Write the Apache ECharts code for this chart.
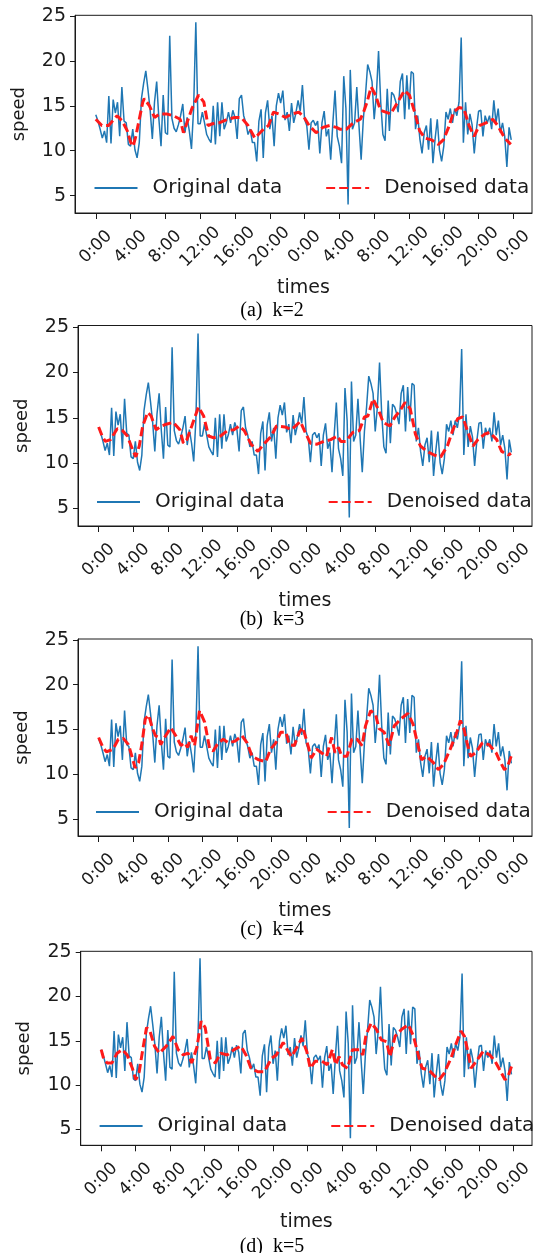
<!DOCTYPE html>
<html><head><meta charset="utf-8">
<script src="https://cdn.jsdelivr.net/npm/echarts@6/dist/echarts.min.js"></script>
<style>html,body{margin:0;padding:0;background:#fff}#c{width:533px;height:1253px}</style>
</head><body><div id="c"></div>
<script>
// ---- data ----
const tickLabels = ['0:00','4:00','8:00','12:00','16:00','20:00','0:00','4:00','8:00','12:00','16:00','20:00','0:00'];
const tickIndex = [0,16,32,48,64,80,96,112,128,144,160,176,192];
const yTicks = [5,10,15,20,25];
const seriesNames = ['Original data','Denoised data'];
const captions = ['(a)  k=2','(b)  k=3','(c)  k=4','(d)  k=5'];

const original = [
14.0,13.3,12.4,11.4,12.2,10.9,16.1,10.8,15.7,14.2,
15.4,11.6,17.1,13.3,13.1,10.7,10.5,12.4,10.1,9.2,
10.9,15.8,17.5,18.9,16.8,14.5,11.3,15.4,17.7,13.6,
10.5,16.2,12.0,11.8,22.8,13.6,12.5,12.1,12.9,13.9,
15.2,12.0,13.7,12.2,10.2,14.8,24.3,13.0,13.0,14.3,
13.1,11.8,11.3,10.9,15.0,10.7,15.4,11.6,15.4,12.4,
13.1,14.3,13.1,14.5,13.7,11.3,15.8,16.2,13.9,13.1,
11.8,12.4,10.9,10.9,8.8,13.3,14.6,9.2,14.2,15.6,
12.4,13.9,10.5,15.0,16.4,15.3,16.7,13.4,14.3,12.2,
15.3,13.1,14.2,15.6,14.4,17.3,13.5,12.8,10.1,13.1,
13.4,12.8,13.3,9.7,13.1,14.4,11.6,12.4,9.0,13.1,
16.7,11.6,10.5,8.6,18.3,14.7,4.0,19.0,12.4,13.1,
17.1,12.8,9.0,13.5,16.2,19.6,18.8,17.7,13.5,16.2,
21.1,15.4,11.8,11.1,16.9,12.2,16.5,16.2,15.4,14.3,
17.7,18.6,13.5,18.4,14.6,18.8,18.6,12.4,13.9,11.3,
9.7,12.0,12.8,10.1,13.6,8.6,11.3,13.5,10.1,8.8,
10.5,14.3,13.5,14.7,13.1,14.7,13.9,15.4,22.6,10.9,
15.4,11.8,14.1,12.9,9.7,12.4,14.4,14.5,11.6,13.9,
13.1,13.9,12.4,15.6,13.1,14.7,12.0,13.1,11.6,8.2,
12.6,11.2];

const denoisedK2 = [[0,13.5],[2.8,12.8],[5.9,12.8],[9.8,13.9],[12.2,13.3],[14.5,12.2],[16.1,10.9],[17.2,10.5],[18.4,11.6],[20,13.5],[21.6,15.4],[22.3,15.8],[24.7,15.0],[27,13.7],[29.4,14.1],[32.5,14.1],[35.6,13.9],[38.8,13.5],[40.3,12.0],[41.9,13.1],[44.2,14.7],[47.3,16.2],[49.7,15.4],[51.6,12.8],[53.6,13.0],[56.7,13.1],[60.6,13.5],[63.8,13.7],[66.9,13.7],[70,12.8],[73.1,11.4],[76.3,12.2],[79.4,12.8],[81.7,14.3],[84.1,14.1],[87.2,13.7],[90.3,14.1],[93.4,14.3],[95.8,13.7],[98.1,12.8],[101.3,12.0],[104.4,12.6],[107.5,12.8],[110.6,12.6],[112.2,12.4],[115.3,12.4],[118.4,13.1],[121.6,13.5],[123.1,14.3],[124.7,15.4],[126.6,17.1],[128.6,16.2],[130.9,14.5],[133.3,14.3],[135.6,14.1],[138.8,15.4],[141.9,16.7],[144.2,16.2],[146.6,14.3],[148.9,12.2],[151.3,11.4],[154.4,11.2],[157.5,10.7],[159.8,11.2],[162.2,12.6],[164.5,14.3],[166.9,14.8],[169.2,14.7],[171.6,12.8],[173.9,11.6],[176.3,12.8],[179.4,13.1],[182.5,13.5],[184.8,12.8],[188,11.4],[190.8,10.7]];

const denoisedK3 = [[0,14.0],[1.6,13.0],[3.1,12.4],[5.5,12.6],[8.6,13.8],[11,13.6],[13.3,13.0],[15.7,11.5],[17.2,10.7],[18.8,11.9],[20.4,14.1],[22.7,15.6],[24.3,15.2],[26.6,13.7],[29,14.1],[31.3,14.3],[34.5,14.5],[37.6,13.7],[39.2,12.2],[40.8,12.6],[43.1,14.1],[46.2,16.2],[48.6,15.2],[50.9,13.0],[53.3,12.8],[56.4,13.0],[59.6,13.6],[62.7,13.7],[65,14.1],[67.4,13.6],[70.5,12.1],[73.7,11.3],[76.8,12.2],[79.9,13.0],[82.3,14.1],[86.2,14.0],[89.3,13.7],[93.3,14.6],[95.6,13.4],[98,12.2],[101.1,12.1],[104.2,12.4],[107.4,12.6],[110.5,13.0],[112.1,12.4],[114.4,12.4],[117.6,13.4],[120.7,13.6],[123,15.1],[124.6,15.2],[127,17.1],[129.3,16.0],[131.7,14.5],[134.8,14.1],[137.1,15.1],[139.5,15.8],[141.8,16.7],[144.2,16.0],[146.6,13.2],[148.9,11.9],[152,11.3],[155.2,10.9],[158.3,10.7],[161.4,11.9],[163.8,13.6],[166.1,14.9],[168.5,15.1],[170.5,13.7],[173.2,11.9],[175.5,12.6],[178.7,13.2],[181,13.4],[184.2,12.6],[186.5,11.3],[189.7,10.9],[190.8,11.1]];

const denoisedK4 = [[0,14.1],[2,13.0],[3.6,12.5],[6.7,12.8],[9.1,13.9],[11.4,14.0],[13.8,13.3],[15.4,12.0],[16.9,10.7],[18.5,11.3],[20.1,13.5],[21.6,16.2],[23.2,16.6],[24.8,15.2],[26.3,14.3],[27.9,14.1],[28.7,13.3],[31,14.3],[33.4,15.2],[35.7,14.3],[38.1,13.2],[39.7,13.5],[41.2,13.0],[42.8,14.3],[44.4,13.2],[46.7,17.1],[49.1,15.8],[51.4,12.8],[53,12.6],[55.3,13.5],[57.7,13.9],[60,13.5],[63.2,13.7],[66.3,14.3],[68.7,13.5],[71,12.0],[74.1,11.6],[77.3,11.4],[79.6,12.8],[82,13.5],[84.3,14.7],[86.7,14.7],[88.2,13.3],[90.6,13.2],[92.9,14.7],[94.5,15.2],[96.9,13.2],[98.4,11.8],[100.8,12.8],[103.1,12.4],[105.5,12.0],[107.8,14.1],[109.4,12.4],[111,13.0],[112.5,12.0],[114.9,12.0],[117.2,13.9],[119.6,13.9],[121.9,13.2],[123.5,15.4],[125.9,17.1],[128.2,16.6],[129.8,15.1],[132.1,14.7],[134.5,13.2],[136.8,15.4],[140,16.2],[143.1,16.8],[145.5,15.6],[147.8,13.2],[149.4,11.6],[151.7,12.0],[154.9,11.3],[157.2,10.5],[159.6,11.1],[162.7,12.8],[165.8,14.7],[167.4,16.0],[169,15.1],[170.5,13.5],[172.1,12.0],[174.5,12.4],[177.6,13.5],[180.7,13.3],[183.9,12.4],[185.4,11.6],[187.8,10.5],[189.3,10.9],[190.9,12.0]];

const denoisedK5 = [[0,14.0],[1.1,13.0],[2.7,12.5],[5,12.5],[7.4,13.6],[9.8,14.0],[12.1,13.4],[14.5,11.9],[16.1,10.6],[17.7,11.5],[19.2,13.8],[21.1,16.5],[22.7,16.1],[24.8,14.4],[27.1,13.6],[30.3,14.4],[33.4,15.5],[35.8,14.0],[38.2,13.4],[40.5,13.6],[42.1,12.5],[44.5,14.2],[46.5,17.2],[48.4,16.5],[50.8,12.9],[53.2,12.5],[55.5,13.6],[58.7,13.4],[61.8,14.0],[65,14.4],[67.4,13.4],[69.7,11.9],[72.9,11.5],[76,11.5],[79.2,13.0],[81.5,13.4],[84.7,14.8],[87.1,13.8],[88.6,13.2],[91,14.2],[93.4,15.3],[95.7,13.8],[97.3,11.9],[99.7,12.7],[102.8,12.7],[105.2,12.3],[107.6,14.0],[109.1,12.3],[110.7,13.2],[112.3,12.3],[114.7,11.9],[117,14.0],[120.2,14.0],[121.8,13.4],[123.3,15.7],[125.7,17.0],[128.1,16.3],[130.4,15.1],[132.8,14.9],[134.4,13.2],[136.8,15.5],[139.9,16.3],[143,16.8],[145.4,15.5],[147.8,13.2],[149.4,11.9],[152.5,11.7],[154.9,11.1],[157.3,10.6],[159.6,11.3],[162.8,13.0],[165.1,14.6],[167.5,16.1],[169.1,15.5],[170.7,13.8],[172.2,11.9],[174.6,12.7],[177.8,13.8],[180.9,13.4],[183.3,12.7],[185.6,11.7],[188,10.6],[189.6,11.1],[191,12.1]];

const denoisedSets = [denoisedK2, denoisedK3, denoisedK4, denoisedK5];

// ---- layout (positions / styles) ----
const panels = [
  {left:75,   top:15.3,  width:457,   height:197.7, ymin:3.06, ymax:25.08, legendTop:178, legendLeft:93.5, timesGap:75, capY:310.5},
  {left:78,   top:325.5, width:454,   height:200.5, ymin:3.07, ymax:25.19, legendTop:492, legendLeft:96,   timesGap:75, capY:620},
  {left:78,   top:639,   width:454,   height:197,   ymin:3.1,  ymax:25.1,  legendTop:802, legendLeft:95,   timesGap:75, capY:930},
  {left:80.7, top:951.3, width:451.3, height:194,   ymin:3.2,  ymax:25.1,  legendTop:1116,legendLeft:98.6, timesGap:77, capY:1246.7}
];
const FONT = 'DejaVu Sans';
const INK = '#1a1a1a';
const xMin = -0.05 * (original.length - 1);
const xMax = (original.length - 1) * 1.05;

const option = {
  animation:false,
  backgroundColor:'#ffffff',
  grid:[], xAxis:[], yAxis:[], series:[], legend:[], graphic:[]
};

panels.forEach((p, k) => {
  option.grid.push({left:p.left, top:p.top, width:p.width, height:p.height, show:true,
    borderColor:INK, borderWidth:1, backgroundColor:'transparent', containLabel:false, outerBoundsMode:'none'});
  option.xAxis.push({type:'value', gridIndex:k, min:xMin, max:xMax,
    name:'times', nameLocation:'middle', nameGap:p.timesGap,
    nameTextStyle:{fontFamily:FONT, fontSize:19, color:INK, verticalAlign:'middle'},
    axisLine:{show:true, onZero:false, lineStyle:{color:INK, width:1}},
    axisTick:{show:true, length:6, customValues:tickIndex, lineStyle:{color:INK, width:1}},
    axisLabel:{show:true, customValues:tickIndex, rotate:45, align:'center', verticalAlign:'middle', margin:34,
      fontFamily:FONT, fontSize:17, color:INK,
      formatter:(v)=>{ const j = tickIndex.indexOf(Math.round(v)); return j>=0 ? tickLabels[j] : ''; }},
    splitLine:{show:false}});
  option.yAxis.push({type:'value', gridIndex:k, min:p.ymin, max:p.ymax,
    name:'speed', nameLocation:'middle', nameGap:56, nameRotate:90,
    nameTextStyle:{fontFamily:FONT, fontSize:18, color:INK, verticalAlign:'middle'},
    axisLine:{show:true, onZero:false, lineStyle:{color:INK, width:1}},
    axisTick:{show:true, length:5, customValues:yTicks, lineStyle:{color:INK, width:1}},
    axisLabel:{show:true, customValues:yTicks, margin:9, fontFamily:FONT, fontSize:19, color:INK},
    splitLine:{show:false}});
  option.series.push({name:seriesNames[0], type:'line', xAxisIndex:k, yAxisIndex:k,
    data: original.map((v,i)=>[i,v]), symbol:'none', symbolSize:0, showSymbol:false, z:2,
    lineStyle:{color:'#1f77b4', width:1.5}, itemStyle:{color:'#1f77b4'}});
  option.series.push({name:seriesNames[1], type:'line', xAxisIndex:k, yAxisIndex:k,
    data: denoisedSets[k], symbol:'none', symbolSize:0, showSymbol:false, z:3,
    lineStyle:{color:'#ff1a1a', width:3, type:[9,4]}, itemStyle:{color:'#ff1a1a'}});
  option.legend.push({show:true, orient:'horizontal', left:p.legendLeft, top:p.legendTop, width:445, padding:0,
    itemWidth:43, itemHeight:14, itemGap:43, data:seriesNames, selectedMode:false,
    itemStyle:{opacity:0, borderWidth:0},
    textStyle:{fontFamily:FONT, fontSize:20, color:INK, padding:[0,0,0,10]}});
  option.graphic.push({type:'text', x:272, y:p.capY, style:{text:captions[k], fontFamily:'Liberation Serif', fontSize:20,
    fill:'#000', textAlign:'center', textVerticalAlign:'middle'}});
});

const chart = echarts.init(document.getElementById('c'), null, {renderer:'canvas'});
chart.setOption(option);
</script></body></html>
